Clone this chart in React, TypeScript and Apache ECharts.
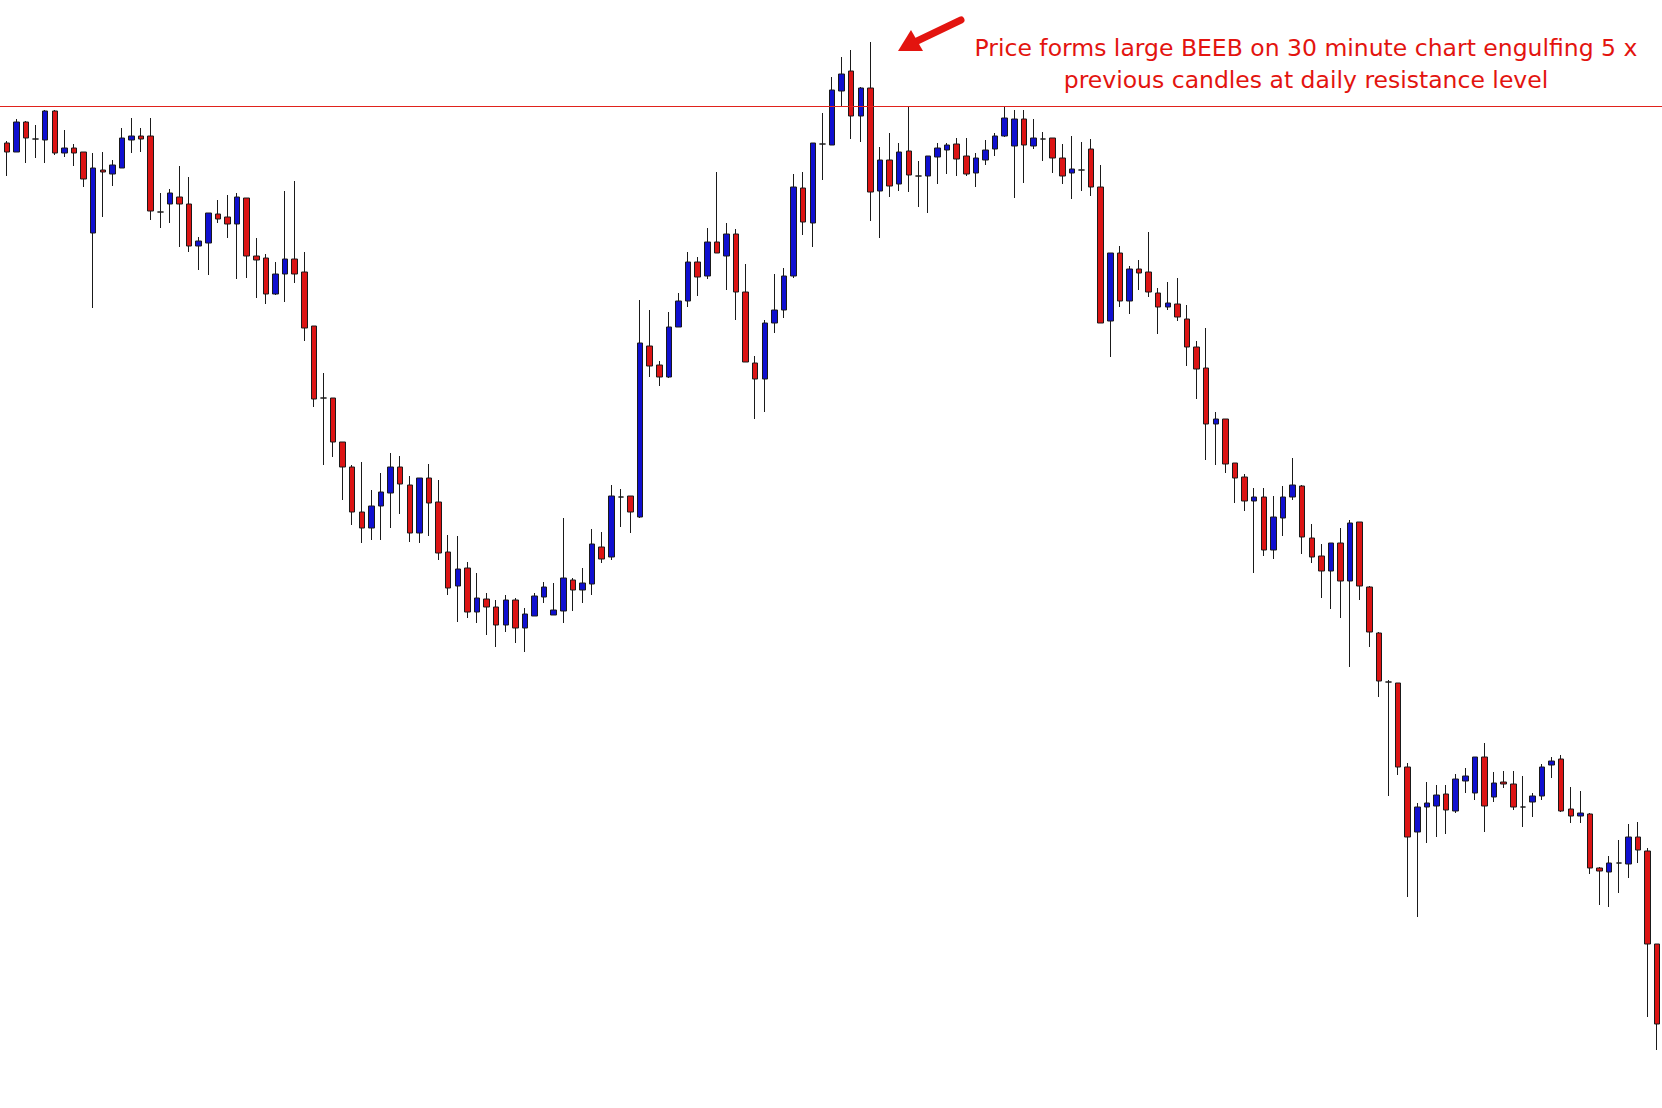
import React, { useEffect, useRef } from "react";
import * as echarts from "echarts";

// 30-minute candles, price in points (higher value = higher price)
const opens = [965,956,986,969,968,997,955,960,956,875,938,934,940,968,972,972,896,904,911,904,862,865,894,891,884,910,852,850,814,834,849,836,782,710,710,666,641,596,580,602,615,641,623,575,630,606,556,522,540,496,509,501,483,508,480,492,511,493,497,528,518,524,561,551,611,612,591,762,743,731,781,807,846,832,866,852,874,816,745,729,785,798,832,920,885,964,963,1017,1037,992,1020,917,948,924,957,932,932,951,958,964,952,935,948,959,972,962,989,962,969,970,950,935,938,959,921,787,855,807,839,836,815,801,804,789,761,740,684,689,645,631,607,611,558,590,611,622,570,552,537,565,527,586,521,475,426,425,341,276,301,302,314,297,327,315,351,311,326,324,301,306,312,343,349,299,292,294,240,236,245,244,271,257,164];
const closes = [956,986,970,969,997,955,960,955,929,940,936,943,970,972,969,897,896,915,904,862,867,895,889,884,911,852,848,814,834,849,834,780,709,710,666,641,596,580,602,616,641,624,575,630,605,555,520,539,496,510,501,483,508,480,494,512,521,498,530,518,525,564,549,612,611,596,765,742,731,781,807,846,831,866,855,874,816,746,729,785,798,832,921,886,965,964,1018,1034,992,1020,916,948,922,956,933,932,952,960,963,949,934,950,958,972,990,989,963,970,969,950,932,939,938,921,785,855,807,839,835,816,801,805,791,761,739,684,689,644,630,607,611,558,591,611,623,571,551,537,565,527,585,522,476,427,426,341,271,301,305,313,298,329,332,351,302,325,324,301,301,312,341,347,297,292,295,240,237,245,245,271,258,164,84];
const lows = [932,956,945,950,945,953,951,942,921,800,891,922,940,955,956,888,880,885,861,856,838,833,885,870,829,830,810,804,813,806,825,767,701,643,651,608,583,565,568,568,580,594,566,565,572,548,513,486,490,485,473,461,476,465,456,492,505,493,485,497,505,513,545,548,581,575,590,731,722,730,781,801,812,829,855,818,788,746,689,696,775,790,830,873,861,928,963,1001,969,966,887,870,911,917,916,901,895,924,934,932,932,921,943,952,971,910,925,959,947,935,924,909,917,912,785,751,801,794,818,811,774,798,787,742,709,648,643,635,605,597,535,552,549,572,608,554,545,510,499,490,441,508,461,411,312,333,211,191,265,271,274,295,315,308,276,306,320,298,281,291,308,330,296,285,285,234,203,201,215,230,245,91,58];
const highs = [967,989,987,983,998,998,978,964,956,955,956,948,980,990,980,990,915,919,942,931,871,895,908,913,915,910,870,854,846,917,927,856,782,735,710,666,643,646,618,635,655,652,632,630,644,628,573,572,546,535,515,508,513,510,500,515,526,525,590,530,540,579,576,623,619,612,808,798,747,796,815,856,851,880,936,885,879,844,752,788,834,840,934,936,965,995,1031,1051,1058,1021,1066,961,975,965,1001,947,952,965,965,970,970,955,968,975,1002,998,998,989,976,970,964,972,966,969,943,855,862,842,848,876,820,826,830,803,767,780,696,689,645,634,620,620,612,622,650,623,584,564,565,580,588,586,522,476,428,425,345,305,326,323,323,334,340,351,365,336,337,337,332,315,344,351,353,321,317,295,241,252,268,284,286,260,164];

const resistanceLevel = 1002;
const annotationLines = [
  "Price forms large BEEB on 30 minute chart engulfing 5 x",
  "previous candles at daily resistance level",
];

export default function App() {
  const ref = useRef<HTMLDivElement>(null);
  useEffect(() => {
    document.body.style.margin = "0";
    const chart = echarts.init(ref.current!, null, { renderer: "svg" });
    const categories = opens.map((_, i) => String(i + 1));
    const data = opens.map((o, i) => [o, closes[i], lows[i], highs[i]]);
    const red = "#e3140f";
    chart.setOption({
      animation: false,
      backgroundColor: "#ffffff",
      grid: { left: 2, right: 0, top: 0, bottom: 0, containLabel: false },
      xAxis: {
        type: "category",
        data: categories,
        boundaryGap: true,
        show: false,
      },
      yAxis: {
        type: "value",
        min: 0,
        max: 1108,
        show: false,
        splitLine: { show: false },
      },
      series: [
        {
          type: "candlestick",
          data,
          barWidth: 6,
          itemStyle: {
            color: "#0f0fd0",
            color0: "#dc1414",
            borderColor: "#1a1a1a",
            borderColor0: "#1a1a1a",
            borderWidth: 1,
          },
          markLine: {
            silent: true,
            symbol: ["none", "none"],
            label: { show: false },
            lineStyle: { color: "#e0221c", width: 1, type: "solid", opacity: 1 },
            data: [
              [
                { x: 0, yAxis: resistanceLevel },
                { x: 1662, yAxis: resistanceLevel },
              ],
            ],
          },
        },
      ],
      graphic: [
        {
          type: "line",
          shape: { x1: 961, y1: 20, x2: 915, y2: 42 },
          style: { stroke: red, lineWidth: 7, lineCap: "round" },
        },
        {
          type: "polygon",
          shape: { points: [[898, 51], [923, 51], [911, 30]] },
          style: { fill: red },
        },
        {
          type: "text",
          x: 1306,
          y: 48,
          style: {
            text: annotationLines[0],
            fill: red,
            font: "23.5px 'DejaVu Sans'",
            align: "center",
            verticalAlign: "middle",
          },
        },
        {
          type: "text",
          x: 1306,
          y: 80,
          style: {
            text: annotationLines[1],
            fill: red,
            font: "23.5px 'DejaVu Sans'",
            align: "center",
            verticalAlign: "middle",
          },
        },
      ],
    });
    return () => chart.dispose();
  }, []);
  return <div ref={ref} style={{ width: 1662, height: 1108 }} />;
}
